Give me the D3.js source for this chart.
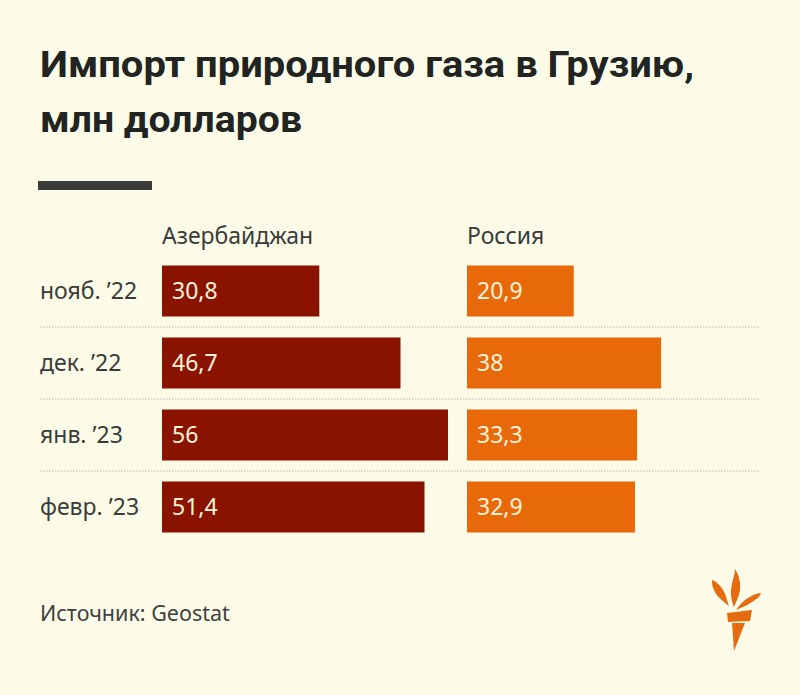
<!DOCTYPE html>
<html><head><meta charset="utf-8">
<script src="https://cdn.jsdelivr.net/npm/d3@7"></script>
<style>
html,body{margin:0;padding:0;background:#fbfbe8;}
svg{display:block;}
</style></head>
<body>
<script>
const titleLines = ["Импорт природного газа в Грузию,", "млн долларов"];
const months = ["нояб. ’22", "дек. ’22", "янв. ’23", "февр. ’23"];
const seriesNames = ["Азербайджан", "Россия"];
const azerbaijan = [30.8, 46.7, 56, 51.4];
const russia = [20.9, 38, 33.3, 32.9];
const valueLabels = [["30,8","46,7","56","51,4"],["20,9","38","33,3","32,9"]];
const source = "Источник: Geostat";

const W = 800, H = 695;
const bg = "#fbfbe8";
const colors = ["#8a1300", "#e8690a"];
const series = [azerbaijan, russia];

const svg = d3.select("body").append("svg").attr("width", W).attr("height", H);
svg.append("rect").attr("width", W).attr("height", H).attr("fill", bg);

// Title
const title = svg.append("g");
const titleWidths = [654, 262];
titleLines.forEach((t, i) => {
  title.append("text")
    .attr("x", 40).attr("y", 77 + i * 55)
    .attr("font-family", "Roboto, 'Open Sans', sans-serif")
    .attr("font-weight", 700).attr("font-size", 37)
    .attr("fill", "#222422")
    .attr("textLength", titleWidths[i]).attr("lengthAdjust", "spacingAndGlyphs")
    .text(t);
});
svg.append("rect").attr("x", 38).attr("y", 181).attr("width", 114).attr("height", 9).attr("fill", "#3b3d3b");

// Scales
const y = d3.scaleBand().domain(months).range([255, 543]).paddingInner(21/72).paddingOuter(10.5/72);
const x = d3.scaleLinear().domain([0, 56]).range([0, 286]);
const colX = [162, 467];

// Dotted separators
const seps = months.slice(1).map(m => y(m) - (y.step() - y.bandwidth()) / 2);
svg.selectAll("line.sep").data(seps).join("line")
  .attr("x1", 40).attr("x2", 760).attr("y1", d => d).attr("y2", d => d)
  .attr("stroke", "#cfcfc2").attr("stroke-width", 1.5).attr("stroke-dasharray", "1.5,1.5");

const font = "'Noto Sans', 'Open Sans', sans-serif";
const fs = 23;

// Column headers
seriesNames.forEach((n, i) => {
  svg.append("text").attr("x", colX[i]).attr("y", 244)
    .attr("font-family", font).attr("font-size", fs).attr("fill", "#3a3c3a").text(n);
});

// Row labels
svg.selectAll("text.row").data(months).join("text")
  .attr("x", 40).attr("y", d => y(d) + y.bandwidth() / 2 + 7.5)
  .attr("font-family", font).attr("font-size", fs).attr("fill", "#3a3c3a")
  .text(d => d);

// Bars
series.forEach((vals, si) => {
  const g = svg.append("g").attr("transform", `translate(${colX[si]},0)`);
  g.selectAll("rect").data(vals).join("rect")
    .attr("x", x(0)).attr("y", (d, i) => y(months[i]))
    .attr("width", d => x(d)).attr("height", y.bandwidth())
    .attr("fill", colors[si]);
  g.selectAll("text").data(vals).join("text")
    .attr("x", 10).attr("y", (d, i) => y(months[i]) + y.bandwidth() / 2 + 7.5)
    .attr("font-family", font).attr("font-size", fs).attr("fill", "#fdf3da")
    .text((d, i) => valueLabels[si][i]);
});

// Source
svg.append("text").attr("x", 40).attr("y", 621)
  .attr("font-family", font).attr("font-size", 21.5).attr("fill", "#3f413f")
  .text(source);

// Logo (torch)
const logo = svg.append("g").attr("fill", "#e46c0e");
logo.append("path").attr("d", "M712,580 C718,582 725,590 727,600 L729,606 C724,602 716,596 714,590 C712,586 712,583 712,580 Z");
logo.append("path").attr("d", "M735,569 C741,578 742,590 737,600 L734,607 C731,600 730,592 732,584 C733,578 735,574 735,569 Z");
logo.append("path").attr("d", "M761,593 C752,594 744,600 739,606 L736,610 C743,607 750,604 755,600 C758,598 760,596 761,593 Z");
logo.append("path").attr("d", "M727,613 L752,610 L750,621 L728,622 Z");
logo.append("path").attr("d", "M732,623 L745,623 L734,651 Z");
</script>
</body></html>
